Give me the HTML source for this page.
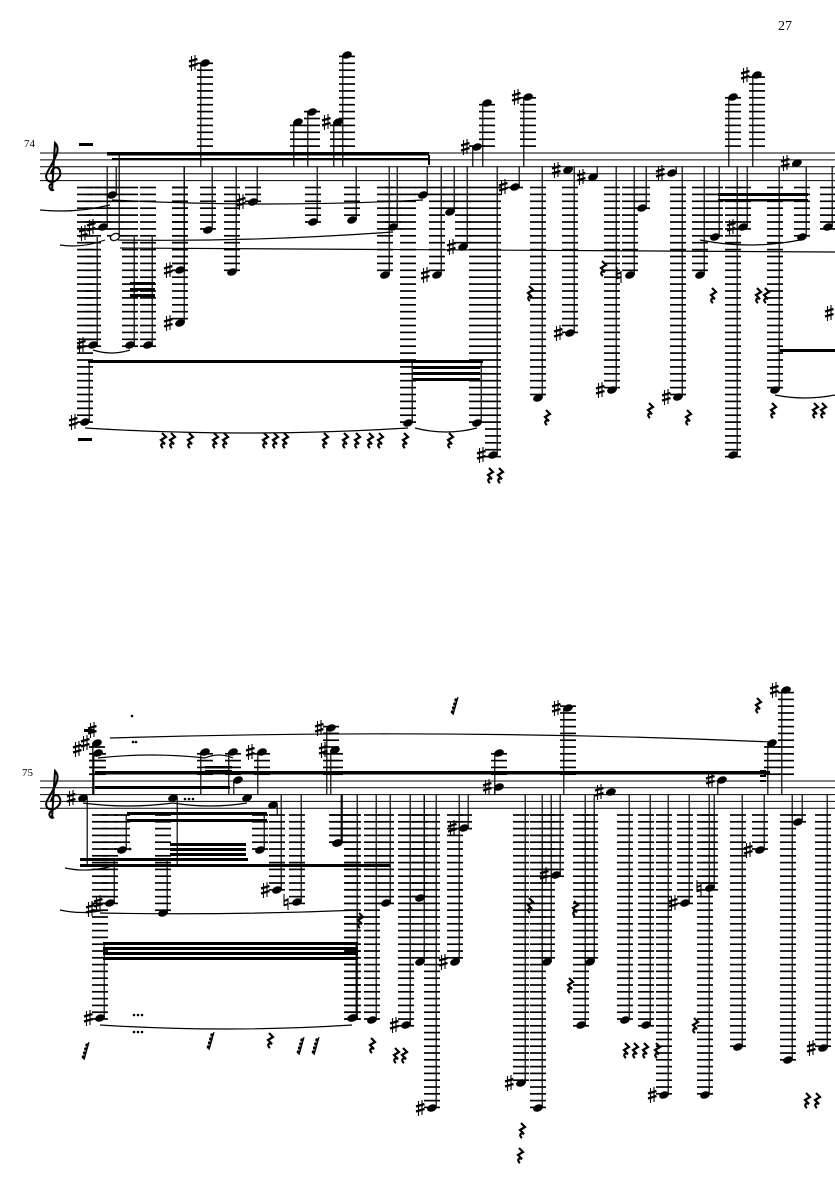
<!DOCTYPE html>
<html><head><meta charset="utf-8"><style>
html,body{margin:0;padding:0;background:#fff;width:835px;height:1181px;overflow:hidden}
svg{display:block}
text{font-family:"Liberation Serif",serif}
</style></head><body>
<svg id="s" width="835" height="1181" viewBox="0 0 835 1181" xmlns="http://www.w3.org/2000/svg">
<text x="778" y="30" font-size="14">27</text>
<text x="24" y="147" font-size="11">74</text>
<text x="22" y="776" font-size="11">75</text>
</svg>
<script>
var s=document.getElementById('s'),out='';
function L(x1,y1,x2,y2,w){out+='<line x1="'+x1+'" y1="'+y1+'" x2="'+x2+'" y2="'+y2+'" stroke="#000" stroke-width="'+(w||1)+'"/>';}
function R(x,y,w,h){out+='<rect x="'+x+'" y="'+y+'" width="'+w+'" height="'+h+'" fill="#000"/>';}
function T(x,y,t,sz){out+='<text x="'+x+'" y="'+y+'" font-size="'+(sz||14)+'" font-family="DejaVu Sans,sans-serif">'+t+'</text>';}
function P(d,f,w){out+='<path d="'+d+'" fill="'+(f?'#000':'none')+'" stroke="#000" stroke-width="'+(w||1)+'"/>';}
function sharp(x,y){L(x-1.5,y-7,x-1.5,y+8,1.1);L(x+2,y-8,x+2,y+7,1.1);L(x-4,y-1.5,x+4.5,y-4,2.4);L(x-4,y+3.5,x+4.5,y+1,2.4);}
function natural(x,y){L(x-2,y-8,x-2,y+4,1.1);L(x+2,y-4,x+2,y+8,1.1);L(x-2,y-1,x+2,y-2.5,2);L(x-2,y+3.5,x+2,y+2,2);}
function staff(top,sp){for(var i=0;i<5;i++)L(40,top+i*sp,835,top+i*sp,1);
 var cx=52;
 P('M'+(cx+2)+' '+(top+4*sp+9)+' C'+(cx-2)+' '+(top+4*sp+12)+' '+(cx-5)+' '+(top+4*sp+4)+' '+cx+' '+(top+4*sp+3)+' M'+cx+' '+(top+4*sp+10)+' L'+(cx+3)+' '+(top-10)+' C'+(cx+9)+' '+(top-4)+' '+(cx+4)+' '+(top+4)+' '+(cx-5)+' '+(top+2*sp+6)+' C'+(cx-9)+' '+(top+3*sp+8)+' '+(cx+2)+' '+(top+4*sp+6)+' '+(cx+8)+' '+(top+3*sp+2)+' C'+(cx+10)+' '+(top+2*sp)+' '+(cx+1)+' '+(top+sp*1.5)+' '+(cx-1)+' '+(top+3*sp),0,2);
}
function head(x,y,half){out+='<ellipse cx="'+x+'" cy="'+y+'" rx="4.8" ry="3.3" transform="rotate(-22 '+x+' '+y+')" fill="'+(half?'#fff':'#000')+'" stroke="#000" stroke-width="'+(half?1.3:0.5)+'"/>';}
function note(st,x,y,acc,opt){opt=opt||{};var top=st[0],sp=st[1],bot=top+4*sp,k;
 if(y>bot+sp*0.7){for(k=bot+sp;k<=y+2;k+=sp)L(x-8,k,x+8,k,1.7);}
 if(y<top-sp*0.7){for(k=top-sp;k>=y-2;k-=sp)L(x-8,k,x+8,k,1.7);}
 head(x,y,opt.half);
 if(!opt.nostem){ var e=opt.se!==undefined?opt.se:top+2*sp;
   if(y>top+2*sp){L(x+4.2,y,x+4.2,e,1.2);} else {L(x-4.2,y,x-4.2,e,1.2);} }
 if(acc==1)sharp(x-12,y);
 if(acc==2)natural(x-11,y);
 if(acc==3){sharp(x-12,y);sharp(x-20,y+6);}
 if(opt.dot){out+='<circle cx="'+(x+8)+'" cy="'+(y-1)+'" r="1.4"/>';}
}
function rest(x,y){P('M'+(x-1)+' '+(y-7)+' L'+(x+3)+' '+(y-3)+' L'+(x-2)+' '+(y)+' L'+(x+2)+' '+(y+4)+' C'+(x-2)+' '+(y+2)+' '+(x-3)+' '+(y+6)+' '+(x)+' '+(y+8),0,2.2);}
function rest16(x,y){L(x+4,y-8,x-1,y+10,1.2);for(var i=0;i<4;i++){out+='<circle cx="'+(x+2-i*1.2)+'" cy="'+(y-5+i*4)+'" r="1.7"/>';L(x+2-i*1.2,y-5+i*4,x+4-i*1.2,y-6+i*4,1);}}
function slur(x1,y1,x2,y2,d){P('M'+x1+' '+y1+' Q'+((x1+x2)/2)+' '+((y1+y2)/2+d)+' '+x2+' '+y2,0,1.2);}

// ===== SYSTEM 1 =====
var A=[153,6.9];staff(153,6.9);
R(79,143,14,3);
var n1=[[205,63,1],[298,122],[312,112],[338,122,1],[347,55],[477,147,1],[487,103],
[528,97,1],[733,97],[757,75,1],[515,187,1],[568,170,1],[593,177,1],[672,173,1],[797,163,1],
[112,195],[103,227,3],[180,270,1],[180,323,1],[208,230],[232,272],[253,202,1],[313,222],[352,220],[393,227],[385,275],
[423,195],[450,212],[463,247,1],[437,275,1],[493,455,1],[538,398],[570,333,1],[612,390,1],[630,275,2],[642,208],
[678,397,1],[700,275],[715,237],[743,227,1],[733,455],[802,237],[828,227],[775,390]];
n1.forEach(function(n){note(A,n[0],n[1],n[2]);});
note(A,115,237,0,{half:1,se:153});
note(A,93,345,1,{se:237});note(A,130,345,0,{se:237});note(A,148,345,0,{se:237});
note(A,85,422,1,{se:362});note(A,408,423,0,{se:362});note(A,477,423,0,{se:362});
R(107,152,322,3.5);R(112,158,316,1.5);
R(428,155,2,10);
R(88,360,395,3);R(413,366,67,3);R(413,372,67,3);R(413,378,67,3);
R(130,282,25,3);R(130,288,25,3);R(130,294,25,3);
R(718,193,90,3);R(718,199,90,2.5);R(780,349,55,3);
slur(112,200,423,200,8);slur(118,240,393,232,6);slur(40,210,110,205,6);slur(60,245,105,240,6);
P('M120 248 Q400 250 835 252',0,1.2);slur(85,428,408,428,10);slur(415,428,477,428,8);
slur(93,350,130,350,6);slur(700,240,800,240,10);slur(775,395,835,395,6);
[[163,440],[172,440],[190,440],[215,440],[225,440],[265,440],[275,440],[285,440],[325,440],[345,440],[357,440],[370,440],[380,440],[405,440],[450,440],[547,417],[603,268],[650,410],[688,417],[713,295],[758,295],[766,295],[773,410],[815,410],[823,410],[490,475],[500,475],[530,293]].forEach(function(r){rest(r[0],r[1]);});
sharp(829,313);
R(78,438,14,3);

// ===== SYSTEM 2 =====
var B=[781,6.8];staff(781,6.8);
var n2=[[331,728,1],[335,750,1],[499,787,1],[499,753],[568,708,1],[772,743],[786,690,1],
[97,743,3],[98,753],[205,752],[233,752],[262,752,1],[238,780],
[337,843],[386,903],[420,898],[406,1025,1],[432,1108,1],[455,962,1],[464,828,1],[521,1083,1],[538,1108],[547,962],[556,875,1],[581,1025],[590,962],[611,792,1],[625,1020],[646,1025],[664,1095,1],[685,903,1],[705,1095],[710,888,2],[722,780,1],[738,1047],[760,850,1],[788,1060],[798,822],[823,1048,1],
[420,962],[372,1020],[353,1018],[277,890,1],[297,902,2],[338,843]];
n2.forEach(function(n){note(B,n[0],n[1],n[2]);});
note(B,83,798,1,{se:865});note(B,173,798,0,{se:865});note(B,247,798,0);note(B,273,805,0,{se:815});
note(B,122,850,0,{dot:1,se:815});note(B,260,850,0,{se:815});
note(B,110,903,3,{se:860});note(B,163,913,0,{se:860});note(B,100,1018,1,{se:942});note(B,352,1018,0,{se:942});
R(95,771,675,3.5);R(95,786,135,3);R(205,766,27,2.5);R(205,770,27,2.5);
R(127,812,140,3);R(127,819,140,3);R(170,843,76,3);R(170,848,76,3);R(170,853,76,3);
R(80,858,168,3);R(80,864,310,3);
R(103,942,255,3);R(103,947,255,3);R(103,952,255,3);R(103,957,255,3);
R(760,770,6,2);R(760,775,6,2);R(760,780,6,2);
P('M110 738 Q450 728 772 742',0,1.2);slur(98,758,205,758,-6);slur(205,758,233,758,-6);
slur(83,803,173,803,6);slur(173,803,247,803,6);slur(65,868,112,866,6);slur(100,913,360,910,4);
slur(100,1025,352,1025,8);slur(60,910,105,910,5);
sharp(92,730);R(84,729,10,3);
[[360,920],[530,905],[575,908],[570,985],[372,1045],[396,1055],[404,1055],[520,1155],[522,1130],[626,1050],[635,1050],[645,1050],[657,1050],[695,1025],[807,1100],[817,1100],[758,705],[270,1040]].forEach(function(r){rest(r[0],r[1]);});
rest16(454,705);rest16(210,1040);rest16(300,1045);rest16(315,1045);rest16(85,1050);
[[132,716],[133,742],[136,742]].forEach(function(c){out+='<circle cx="'+c[0]+'" cy="'+c[1]+'" r="1.3"/>';});
for(var i=0;i<3;i++){out+='<circle cx="'+(134+i*4)+'" cy="1015" r="1.3"/><circle cx="'+(134+i*4)+'" cy="1032" r="1.3"/><circle cx="'+(185+i*4)+'" cy="799" r="1.3"/>';}
s.insertAdjacentHTML('beforeend',out);
</script>
</body></html>
